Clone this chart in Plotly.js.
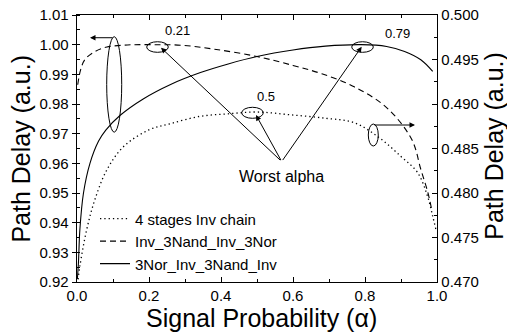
<!DOCTYPE html>
<html>
<head>
<meta charset="utf-8">
<script src="https://cdn.plot.ly/plotly-3.0.1.min.js"></script>
<style>html,body{margin:0;padding:0;background:#fff;}#chart{width:507px;height:335px;}</style>
</head>
<body>
<div id="chart"></div>
<script>
// Series 1: 4 stages Inv chain (right axis)
const alphaInv = [0.003, 0.008, 0.027, 0.05, 0.083, 0.129, 0.2, 0.26, 0.34, 0.42, 0.5, 0.59, 0.69, 0.77, 0.84, 0.9, 0.946, 0.974, 0.988, 0.997];
const delayInv = [0.4703, 0.4718, 0.4759, 0.4793, 0.4826, 0.4852, 0.4871, 0.4878, 0.4886, 0.4889, 0.4891, 0.4888, 0.4884, 0.4879, 0.4862, 0.4841, 0.4823, 0.4796, 0.4774, 0.4759];
// Series 2: Inv_3Nand_Inv_3Nor (left axis)
const alphaNand = [0.002, 0.01, 0.022, 0.05, 0.083, 0.14, 0.21, 0.29, 0.38, 0.5, 0.6, 0.68, 0.77, 0.86, 0.93, 0.955, 0.975, 0.985];
const delayNand = [0.9865, 0.9915, 0.995, 0.9977, 0.9992, 0.9999, 1.0000, 0.9998, 0.9985, 0.9960, 0.9930, 0.9902, 0.9858, 0.9788, 0.9680, 0.9580, 0.9500, 0.9445];
// Series 3: 3Nor_Inv_3Nand_Inv (left axis)
const alphaNor = [0.001, 0.004, 0.008, 0.018, 0.036, 0.06, 0.08, 0.12, 0.185, 0.26, 0.343, 0.42, 0.5, 0.6, 0.69, 0.79, 0.86, 0.91, 0.955, 0.988];
const delayNor = [0.921, 0.9265, 0.9377, 0.950, 0.960, 0.9675, 0.9712, 0.9762, 0.9818, 0.9866, 0.9906, 0.9935, 0.9960, 0.9982, 0.9995, 1.0000, 0.9994, 0.9977, 0.9949, 0.9910];

const seriesNames = ['4 stages Inv chain', 'Inv_3Nand_Inv_3Nor', '3Nor_Inv_3Nand_Inv'];
const worstAlpha = ['0.21', '0.5', '0.79'];

const FONT = 'Liberation Sans, Arial, sans-serif';

const traces = [
  {x: alphaInv, y: delayInv, yaxis: 'y2', mode: 'lines', name: seriesNames[0],
   line: {color: '#000', width: 1.3, dash: '1.3px,3px', shape: 'spline'}},
  {x: alphaNand, y: delayNand, mode: 'lines', name: seriesNames[1],
   line: {color: '#000', width: 1.1, dash: '6px,4px', shape: 'spline'}},
  {x: alphaNor, y: delayNor, mode: 'lines', name: seriesNames[2],
   line: {color: '#000', width: 1.1, shape: 'spline'}}
];

const ell = (x0, x1, y0, y1) => ({type: 'circle', xref: 'x', yref: 'y', x0, x1, y0, y1,
  line: {color: '#000', width: 1}});

const arr = (x, y, ax, ay, head) => ({x, y, ax, ay, xref: 'x', yref: 'y', axref: 'x', ayref: 'y',
  text: '', showarrow: true, arrowhead: head ? 2 : 0, arrowsize: 1.1, arrowwidth: 1, arrowcolor: '#000', standoff: 0, startstandoff: 0});

const txt = (x, y, text, size, extra) => Object.assign({x, y, xref: 'x', yref: 'y', text, showarrow: false,
  font: {family: FONT, size, color: '#000'}, xanchor: 'center', yanchor: 'middle'}, extra || {});

const layout = {
  width: 507, height: 335,
  margin: {l: 77, r: 70, t: 15, b: 53},
  paper_bgcolor: '#fff', plot_bgcolor: '#fff',
  font: {family: FONT, size: 15, color: '#000'},
  showlegend: true,
  legend: {x: 0.05, y: 0.006, xanchor: 'left', yanchor: 'bottom', bgcolor: 'rgba(0,0,0,0)',
           font: {family: FONT, size: 15, color: '#000'}, tracegroupgap: 0, itemwidth: 30},
  xaxis: {range: [0, 1], tickvals: [0, 0.2, 0.4, 0.6, 0.8, 1.0], tickformat: '.1f',
          ticks: 'inside', ticklen: 5, tickwidth: 1, tickcolor: '#000',
          minor: {tickvals: [0.1, 0.3, 0.5, 0.7, 0.9], ticks: 'inside', ticklen: 3, tickcolor: '#000'},
          showline: true, linecolor: '#000', linewidth: 1.3, mirror: 'ticks', showgrid: false, zeroline: false,
          tickfont: {family: FONT, size: 15, color: '#000'}},
  yaxis: {range: [0.92, 1.01], dtick: 0.01, tick0: 0.92, tickformat: '.2f',
          ticks: 'outside', ticklen: 4, tickwidth: 1, tickcolor: '#000',
          minor: {dtick: 0.005, ticks: 'inside', ticklen: 3, tickcolor: '#000'},
          showline: true, linecolor: '#000', linewidth: 1.3, showgrid: false, zeroline: false,
          tickfont: {family: FONT, size: 15, color: '#000'}},
  yaxis2: {range: [0.470, 0.500], dtick: 0.005, tick0: 0.47, tickformat: '.3f', overlaying: 'y', side: 'right',
          ticks: 'inside', ticklen: 5, tickwidth: 1, tickcolor: '#000',
          minor: {dtick: 0.0025, ticks: 'inside', ticklen: 3, tickcolor: '#000'},
          showline: true, linecolor: '#000', linewidth: 1.3, showgrid: false, zeroline: false,
          tickfont: {family: FONT, size: 15, color: '#000'}},
  shapes: [
    ell(0.0825, 0.1242, 0.9705, 1.0027),
    ell(0.1936, 0.2536, 0.99742, 1.00099),
    ell(0.7631, 0.8231, 0.99742, 1.00099),
    ell(0.4575, 0.5175, 0.97518, 0.97889),
    ell(0.8092, 0.8369, 0.96584, 0.97325)
  ],
  annotations: [
    arr(0.0361, 1.00234, 0.1028, 1.00234, true),
    arr(0.9389, 0.97292, 0.8222, 0.97292, true),
    arr(0.2333, 0.99897, 0.5686, 0.9606, true),
    arr(0.4972, 0.97629, 0.5686, 0.9606, true),
    arr(0.7908, 0.99931, 0.5686, 0.9606, true),
    txt(0.2778, 1.00493, worstAlpha[0], 13),
    txt(0.5244, 0.98245, worstAlpha[1], 13),
    txt(0.8903, 1.00365, worstAlpha[2], 13),
    txt(0.5675, 0.9557, 'Worst alpha', 16),
    {xref: 'paper', yref: 'paper', x: 0.5125, y: -0.135, text: 'Signal Probability (α)', showarrow: false,
     xanchor: 'center', yanchor: 'middle', font: {family: FONT, size: 25, color: '#000'}},
    {xref: 'paper', yref: 'paper', x: -0.158, y: 0.5, text: 'Path Delay (a.u.)', showarrow: false, textangle: -90,
     xanchor: 'center', yanchor: 'middle', font: {family: FONT, size: 25, color: '#000'}},
    {xref: 'paper', yref: 'paper', x: 1.158, y: 0.51, text: 'Path Delay (a.u.)', showarrow: false, textangle: -90,
     xanchor: 'center', yanchor: 'middle', font: {family: FONT, size: 25, color: '#000'}}
  ]
};

Plotly.newPlot('chart', traces, layout, {displayModeBar: false, staticPlot: true});
</script>
</body>
</html>
